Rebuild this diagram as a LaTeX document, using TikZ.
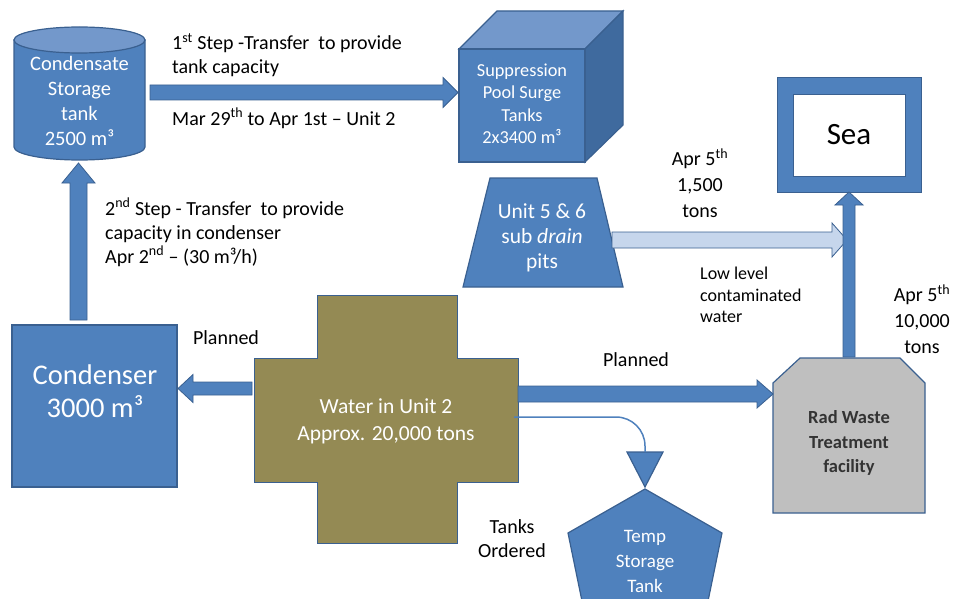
\documentclass[tikz,border=0pt]{standalone}
\usepackage{fontspec}
\setmainfont{Carlito}
\usetikzlibrary{calc}
\definecolor{bfill}{HTML}{4F81BD}
\definecolor{bline}{HTML}{3A6090}
\definecolor{btop}{HTML}{7398CB}
\definecolor{bside}{HTML}{3F6A9E}
\definecolor{olivec}{HTML}{948A54}
\definecolor{rgray}{HTML}{BFBFBF}
\definecolor{lblue}{HTML}{C6D6EC}
\tikzset{
  shapefill/.style={fill=bfill, draw=bline, line width=1.2pt},
  lab/.style={font=\fontsize{20}{24}\selectfont, text=black, align=left, inner sep=0pt},
  intext/.style={text=white, align=center, inner sep=0pt},
  blockarr/.style={fill=bfill, draw=bline, line width=0.8pt},
}
\newcommand\blockarrow[6][]{%
  \coordinate (ba-c) at ($(#3)!#6!(#2)$);
  \path[blockarr,#1] ($(#2)!#4!90:(#3)$) -- ($(ba-c)!#4!90:(#3)$) -- ($(ba-c)!#5!90:(#3)$) -- (#3)
    -- ($(ba-c)!#5!-90:(#3)$) -- ($(ba-c)!#4!-90:(#3)$) -- ($(#2)!#4!-90:(#3)$) -- cycle;}
\begin{document}
\begin{tikzpicture}[x=1pt,y=-1pt]
\path[use as bounding box] (0,0) rectangle (955,599);
\begin{scope}
\clip (0,0) rectangle (955,599);

% Condensate storage tank (cylinder)
\path[shapefill] (14,40) -- (14,147) arc[start angle=180, end angle=0, x radius=65.5, y radius=13] -- (145,40) -- cycle;
\path[fill=btop, draw=bline, line width=1.2pt] (79.5,40) ellipse [x radius=65.5, y radius=13];
\node[intext, font=\fontsize{20.5}{25}\selectfont] (cst) at (79.5,101) {Condensate\\Storage\\tank\\2500 m³};
\coordinate (cst-e) at (150,92.5);
\coordinate (cst-s) at (78.5,163);

% Suppression pool surge tanks (cube)
\path[shapefill, fill=btop] (459,49) -- (497,11) -- (623,11) -- (585,49) -- cycle;
\path[shapefill, fill=bside] (585,49) -- (623,11) -- (623,125) -- (585,162) -- cycle;
\path[shapefill] (459,49) rectangle (585,162);
\node[intext, font=\fontsize{18.3}{22.5}\selectfont] (spt) at (522,104) {Suppression\\Pool Surge\\Tanks\\2x3400 m³};
\coordinate (spt-w) at (458,92.5);

% Sea
\path[fill=bfill, draw=bline, line width=1pt] (777,78) rectangle (921,192);
\path[fill=white, draw=bline, line width=0.8pt] (793,94) rectangle (905,176);
\node[font=\fontsize{31}{32}\selectfont, inner sep=0pt] (sea) at (849,135) {Sea};
\coordinate (sea-s) at (849,192);
\coordinate (sea-w) at (847,240);

% Unit 5 & 6 sub drain pits (trapezoid)
\path[shapefill] (490,178) -- (597,178) -- (623,287) -- (463,287) -- cycle;
\node[intext, font=\fontsize{21.5}{25}\selectfont] (pits) at (542,238) {Unit 5 \& 6\\sub \textit{drain}\\pits};
\coordinate (pits-e) at (612,240);

% Condenser
\path[shapefill] (12,325) rectangle (177,487);
\node[intext, font=\fontsize{28.5}{33}\selectfont] (cond) at (95,391) {Condenser\\3000 m³};
\coordinate (cond-n) at (78.5,320);
\coordinate (cond-e) at (178,388.5);

% Water in Unit 2 (cross)
\path[fill=olivec, draw=bline, line width=1pt] (317,295) -- (457,295) -- (457,358) -- (518,358) -- (518,482) -- (457,482) -- (457,543) -- (317,543) -- (317,482) -- (254,482) -- (254,358) -- (317,358) -- cycle;
\node[intext, font=\fontsize{21.5}{27}\selectfont] (water) at (386,421) {Water in Unit 2\\Approx. 20,000 tons};
\coordinate (water-w) at (252,388.5);
\coordinate (water-e) at (518,394);
\coordinate (water-tap) at (514,417);

% Rad waste treatment facility
\path[fill=rgray, draw=bline, line width=1.2pt] (773,383) -- (800,358) -- (900,358) -- (925,383) -- (925,513) -- (773,513) -- cycle;
\node[font=\bfseries\fontsize{18.5}{24.5}\selectfont, align=center, text=black!80, inner sep=0pt] (rw) at (849,443) {Rad Waste\\Treatment\\facility};
\coordinate (rw-w) at (773,394);
\coordinate (rw-n) at (849,357);

% Temp storage tank (pentagon) and inlet triangle
\path[shapefill] (645,489) -- (722,533) -- (700,640) -- (590,640) -- (568,533) -- cycle;
\node[intext, font=\fontsize{19}{25}\selectfont] (tst) at (645,561) {Temp\\Storage\\Tank};
\path[shapefill] (627,452) -- (663,452) -- (645,487) -- cycle;
\coordinate (tst-in) at (645,452);

% Connectors
\blockarrow{cst-e}{spt-w}{7.5pt}{15pt}{15pt}
\blockarrow{cond-n}{cst-s}{8.5pt}{16.5pt}{20pt}
\blockarrow{water-w}{cond-e}{6.5pt}{14pt}{15pt}
\blockarrow{water-e}{rw-w}{8pt}{14pt}{16pt}
\blockarrow[fill=lblue]{pits-e}{sea-w}{8pt}{17pt}{15pt}
\blockarrow{rw-n}{sea-s}{6pt}{14pt}{13pt}
\draw[bfill, line width=1.5pt] (water-tap) -- (616,417) arc[start angle=270, end angle=360, radius=29] -- (tst-in);

% Labels
\node[lab, anchor=west] (l1) at (172,55) {1\textsuperscript{st} Step -Transfer\ \ to provide\\tank capacity};
\node[lab, anchor=west] (l2) at (172,118) {Mar 29\textsuperscript{th} to Apr 1st – Unit 2};
\node[lab, anchor=west] (l3) at (105,232) {2\textsuperscript{nd} Step - Transfer\ \ to provide\\capacity in condenser\\Apr 2\textsuperscript{nd} – (30 m³/h)};
\node[lab] (pl1) at (226,338) {Planned};
\node[lab] (pl2) at (636,360) {Planned};
\node[lab, align=center, font=\fontsize{20}{26}\selectfont] (a5a) at (700,183) {Apr 5\textsuperscript{th}\\1,500\\tons};
\node[lab, anchor=west, font=\fontsize{18}{21.5}\selectfont] (low) at (700,295) {Low level\\contaminated\\water};
\node[lab, align=center, font=\fontsize{20}{26}\selectfont] (a5b) at (922,319) {Apr 5\textsuperscript{th}\\10,000\\tons};
\node[lab, align=center] (tord) at (512,539) {Tanks\\Ordered};
\end{scope}
\end{tikzpicture}
\end{document}
